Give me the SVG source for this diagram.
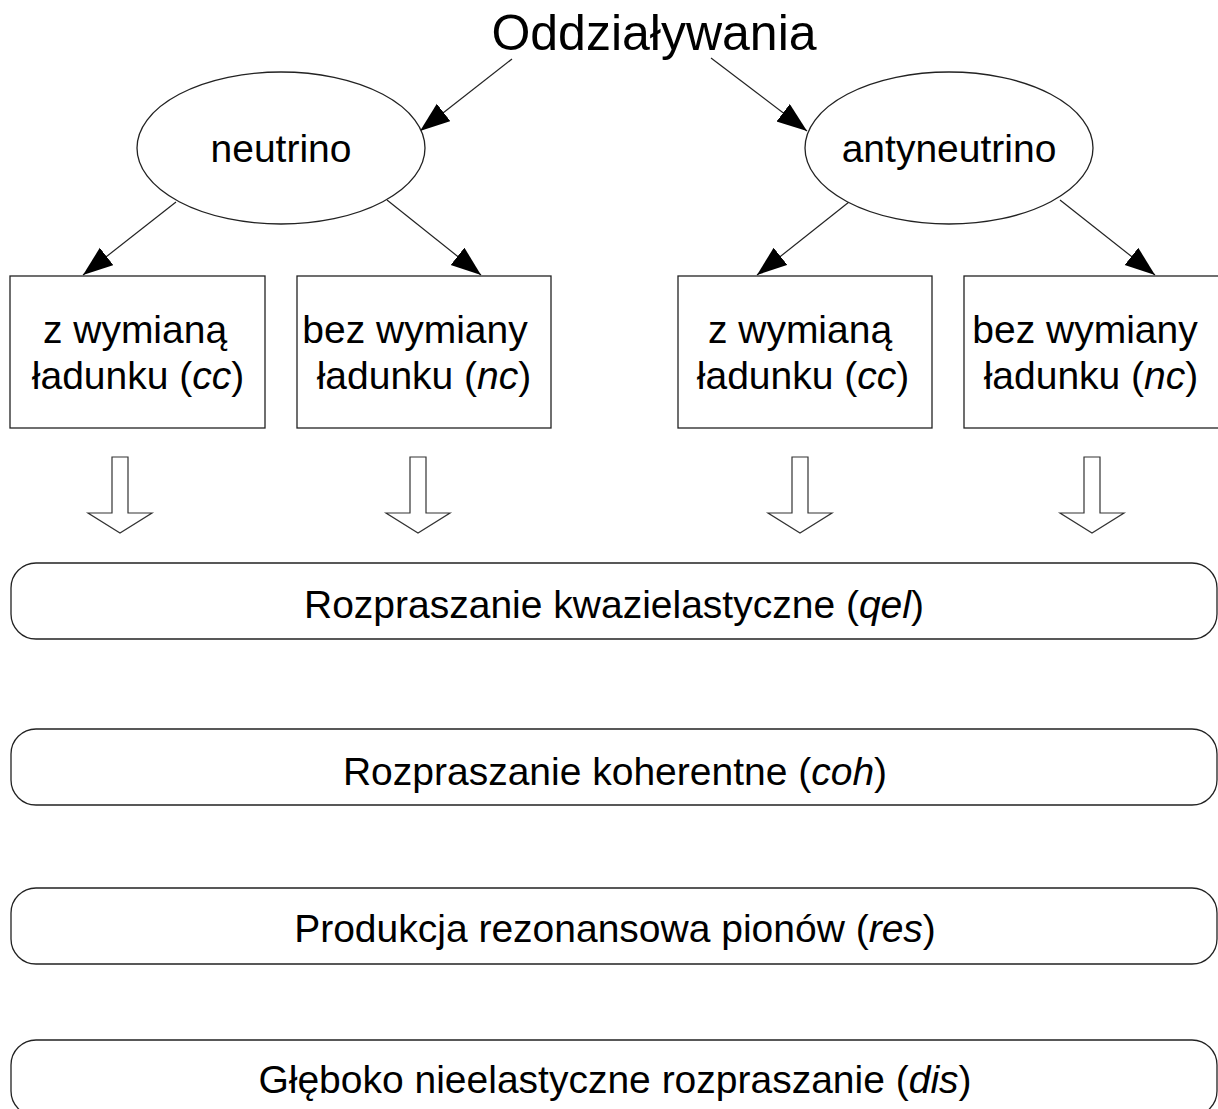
<svg xmlns="http://www.w3.org/2000/svg" width="1218" height="1109" viewBox="0 0 1218 1109">
<style>
text{font-family:"Liberation Sans",Arial,sans-serif;fill:#000;}
.t{font-size:39px;text-anchor:middle;}
.title{font-size:50px;text-anchor:middle;}
.shape{fill:#fff;stroke:#222;stroke-width:1.3;}
.edge{fill:none;stroke:#222;stroke-width:1.2;}
.blk{fill:#fff;stroke:#333;stroke-width:1.2;}
</style>
<defs>
<marker id="ah" markerUnits="userSpaceOnUse" markerWidth="32" markerHeight="24" refX="30" refY="11" orient="auto">
<path d="M0,0 L30,11 L0,22 Z" fill="#000"/>
</marker>
</defs>
<rect width="1218" height="1109" fill="#fff"/>
<g id="title"><text class="title" x="654" y="50">Oddziaływania</text></g>
<g id="connectors">
<line class="edge" x1="512" y1="59" x2="420" y2="131" marker-end="url(#ah)"/>
<line class="edge" x1="711" y1="58" x2="807" y2="131" marker-end="url(#ah)"/>
<line class="edge" x1="176" y1="202" x2="83" y2="275" marker-end="url(#ah)"/>
<line class="edge" x1="387" y1="200" x2="481" y2="275" marker-end="url(#ah)"/>
<line class="edge" x1="849" y1="202" x2="757" y2="275" marker-end="url(#ah)"/>
<line class="edge" x1="1060" y1="200" x2="1155" y2="275" marker-end="url(#ah)"/>
<path class="blk" d="M112,457 H128 V513 H152 L120,533 L88,513 H112 Z"/>
<path class="blk" d="M410,457 H426 V513 H450 L418,533 L386,513 H410 Z"/>
<path class="blk" d="M792,457 H808 V513 H832 L800,533 L768,513 H792 Z"/>
<path class="blk" d="M1084,457 H1100 V513 H1124 L1092,533 L1060,513 H1084 Z"/>
</g>
<g id="neutrino"><ellipse class="shape" cx="281" cy="148" rx="144" ry="76"/><text class="t" x="281" y="162">neutrino</text></g>
<g id="antyneutrino"><ellipse class="shape" cx="949" cy="148" rx="144" ry="76"/><text class="t" x="949" y="162">antyneutrino</text></g>
<g id="box1"><rect class="shape" x="10" y="276" width="255" height="152"/><text class="t" x="135" y="343">z wymianą</text><text class="t" x="138" y="389">ładunku (<tspan font-style="italic">cc</tspan>)</text></g>
<g id="box2"><rect class="shape" x="297" y="276" width="254" height="152"/><text class="t" x="415" y="343">bez wymiany</text><text class="t" x="424" y="389">ładunku (<tspan font-style="italic">nc</tspan>)</text></g>
<g id="box3"><rect class="shape" x="678" y="276" width="254" height="152"/><text class="t" x="800" y="343">z wymianą</text><text class="t" x="803" y="389">ładunku (<tspan font-style="italic">cc</tspan>)</text></g>
<g id="box4"><rect class="shape" x="964" y="276" width="260" height="152"/><text class="t" x="1085" y="343">bez wymiany</text><text class="t" x="1091" y="389">ładunku (<tspan font-style="italic">nc</tspan>)</text></g>
<g id="qel"><rect class="shape" x="11" y="563" width="1206" height="76" rx="25" ry="25"/><text class="t" x="614" y="618">Rozpraszanie kwazielastyczne (<tspan font-style="italic">qel</tspan>)</text></g>
<g id="coh"><rect class="shape" x="11" y="729" width="1206" height="76" rx="25" ry="25"/><text class="t" x="615" y="785">Rozpraszanie koherentne (<tspan font-style="italic">coh</tspan>)</text></g>
<g id="res"><rect class="shape" x="11" y="888" width="1206" height="76" rx="25" ry="25"/><text class="t" x="615" y="942">Produkcja rezonansowa pionów (<tspan font-style="italic">res</tspan>)</text></g>
<g id="dis"><rect class="shape" x="11" y="1040" width="1206" height="76" rx="25" ry="25"/><text class="t" x="615" y="1093">Głęboko nieelastyczne rozpraszanie (<tspan font-style="italic">dis</tspan>)</text></g>
</svg>
